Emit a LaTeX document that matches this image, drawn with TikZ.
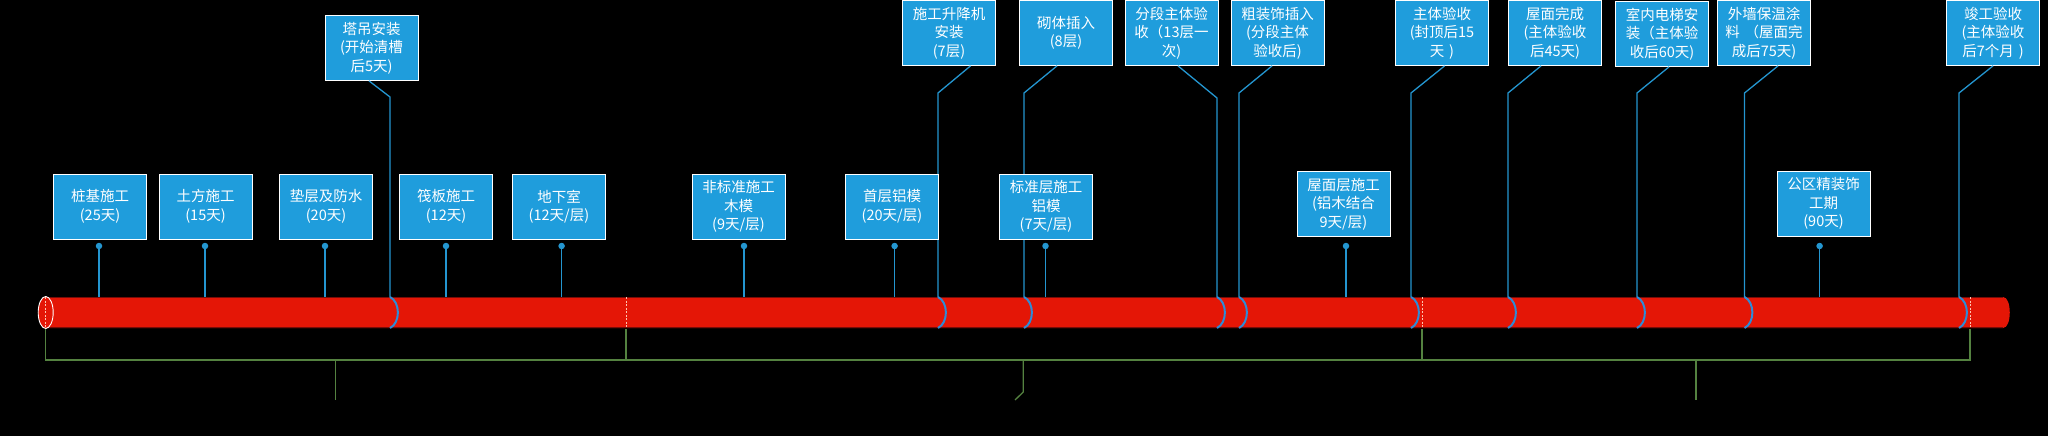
\documentclass[tikz,border=0pt]{standalone}
\usepackage{fontspec}
\newfontfamily\cjk{Noto Sans CJK SC}
\definecolor{boxblue}{RGB}{31, 157, 220}
\definecolor{pinblue}{RGB}{36, 150, 208}
\definecolor{ringblue}{RGB}{45, 140, 215}
\definecolor{pipered}{RGB}{228, 22, 6}
\definecolor{pipeedge}{RGB}{120, 12, 8}
\definecolor{braceline}{RGB}{84, 130, 64}
\definecolor{cutline}{RGB}{255, 196, 176}

\begin{document}
\begin{tikzpicture}[x=1pt, y=-1pt,
        task/.style={draw=white, line width=0.8pt, fill=boxblue, text=white,
            text width=93pt, minimum height=65pt, inner sep=0pt, align=center,
            font=\cjk\fontsize{14.5}{18.5}\selectfont},
        pindot/.style={circle, fill=pinblue, inner sep=0pt, minimum size=6.5pt},
        stem/.style={pinblue, line width=1.3pt},
        ring/.style={ringblue, line width=2pt},
        brace/.style={braceline, line width=1.3pt},
        cut/.style={cutline, line width=0.8pt, dash pattern=on 2pt off 1.5pt}]
    % Background
    \useasboundingbox (0,0) rectangle (2048,436);
    \fill[black] (0,0) rectangle (2048,436);

    % Pipe
    \fill[pipered] (45.7,297) -- (2003,297) .. controls (2012,297) and (2012,328) .. (2003,328)
        -- (45.7,328) -- cycle;
    \draw[pipeedge, line width=1.2pt] (45.7,297.5) -- (2003,297.5);
    \draw[pipeedge, line width=1.2pt] (45.7,327.5) -- (2003,327.5);
    \filldraw[fill=pipered, draw=white, line width=0.9pt] (45.7,312.5) ellipse [x radius=7.5pt, y radius=16pt];
    \draw[cut] (45.7,297) -- (45.7,328);
    \draw[cut] (626,297) -- (626,328);
    \draw[cut] (1422,297) -- (1422,328);
    \draw[cut] (1970,297) -- (1970,328);

    % Milestones
    \node[task] (tdaz) at (371.5,48) {塔吊安装\\(开始清槽\\后5天)};
    \node[task] (sjj) at (949,33) {施工升降机\\安装\\(7层)};
    \node[task] (qtcr) at (1066,33) {砌体插入\\(8层)};
    \node[task] (fdys) at (1171.5,33) {分段主体验\\收（13层一\\次)};
    \node[task] (czs) at (1277.5,33) {粗装饰插入\\(分段主体\\验收后)};
    \node[task] (ztys) at (1442,33) {主体验收\\(封顶后15\\天 )};
    \node[task] (wmwc) at (1555,33) {屋面完成\\(主体验收\\后45天)};
    \node[task] (dtaz) at (1662,34) {室内电梯安\\装（主体验\\收后60天)};
    \node[task] (wqbw) at (1764,33) {外墙保温涂\\料 （屋面完\\成后75天)};
    \node[task] (jgys) at (1993,33) {竣工验收\\(主体验收\\后7个月 )};

    \foreach \t/\dx/\x/\ky in {tdaz/-2.5/390/97, sjj/21.5/938/93, qtcr/-9/1024/93,
            fdys/6.5/1217/98, czs/-5.5/1239/93, ztys/2.6/1411/93, wmwc/-14/1508/93,
            dtaz/7/1637/93, wqbw/14/1744.5/93, jgys/0/1959/93} {
        \coordinate (\t-k) at (\x,\ky);
        \coordinate (\t-p) at (\x,297);
        \draw[stem] ([xshift=\dx pt]\t.south) -- (\t-k) -- (\t-p);
        \draw[ring] (\t-p) .. controls +(10.5,5) and +(10.5,-5) .. +(0,31);
    }

    % Works
    \node[task] (zjsg) at (100,206.5) {桩基施工\\(25天)};
    \node[task] (tfsg) at (205.5,206.5) {土方施工\\(15天)};
    \node[task] (dcfs) at (326,206.5) {垫层及防水\\(20天)};
    \node[task] (fbsg) at (446,206.5) {筏板施工\\(12天)};
    \node[task] (dxs) at (559,207) {地下室\\(12天/层)};
    \node[task] (fbzmm) at (738.5,206.5) {非标准施工\\木模\\(9天/层)};
    \node[task] (sclm) at (892,206.5) {首层铝模\\(20天/层)};
    \node[task] (bzclm) at (1046,206.5) {标准层施工\\铝模\\(7天/层)};
    \node[task] (wmcsg) at (1343.5,204) {屋面层施工\\(铝木结合\\9天/层)};
    \node[task] (gqjz) at (1823.5,203.5) {公区精装饰\\工期\\(90天)};

    \foreach \t/\x in {zjsg/99, tfsg/205, dcfs/325, fbsg/446, dxs/561.6, fbzmm/744,
            sclm/894.6, bzclm/1045.5, wmcsg/1346, gqjz/1819.6} {
        \node[pindot] (\t-d) at (\x,246) {};
        \coordinate (\t-p) at (\x,297);
        \draw[stem] (\t-d) -- (\t-p);
    }

    % Stages
    \coordinate (s0) at (45.7,329);
    \coordinate (s1) at (626,329);
    \coordinate (s2) at (1422,329);
    \coordinate (s3) at (1970,329);
    \draw[brace] (s0) -- (45.7,360) -- (1970,360) -- (s3);
    \draw[brace] (s1) -- (626,360);
    \draw[brace] (s2) -- (1422,360);
    \draw[brace] (335.5,360) -- (335.5,400);
    \draw[brace] (1023.3,360) -- (1023.3,392) -- (1015,400);
    \draw[brace] (1696,360) -- (1696,400);
\end{tikzpicture}
\end{document}
